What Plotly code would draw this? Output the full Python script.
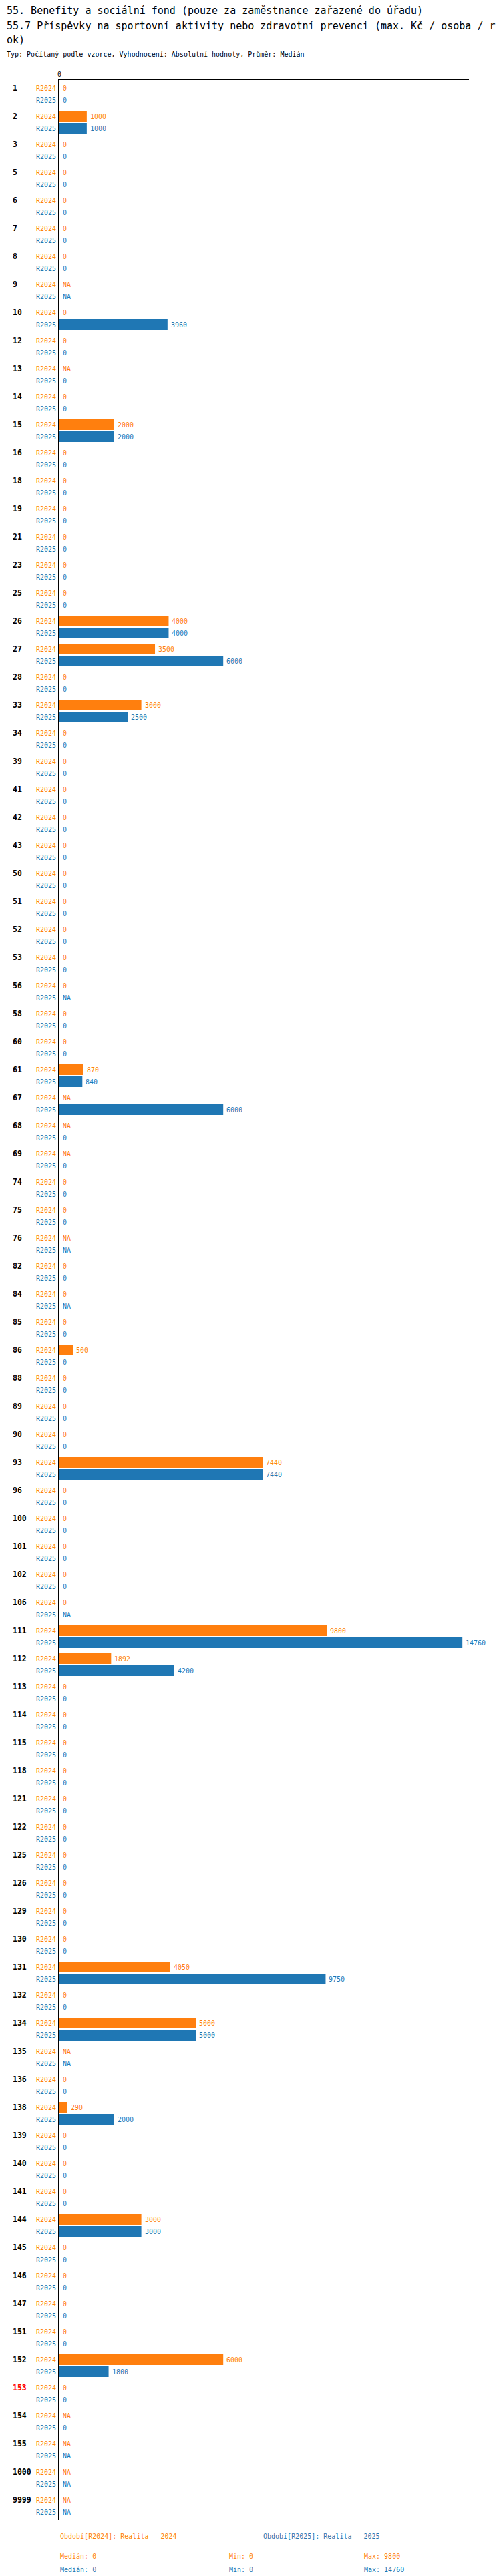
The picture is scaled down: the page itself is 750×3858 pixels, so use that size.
import numpy as np
import plotly.graph_objects as go

# Category codes (top to bottom) and values per period; None = NA
codes = ["1", "2", "3", "5", "6", "7", "8", "9", "10", "12",
         "13", "14", "15", "16", "18", "19", "21", "23", "25", "26",
         "27", "28", "33", "34", "39", "41", "42", "43", "50", "51",
         "52", "53", "56", "58", "60", "61", "67", "68", "69", "74",
         "75", "76", "82", "84", "85", "86", "88", "89", "90", "93",
         "96", "100", "101", "102", "106", "111", "112", "113", "114", "115",
         "118", "121", "122", "125", "126", "129", "130", "131", "132", "134",
         "135", "136", "138", "139", "140", "141", "144", "145", "146", "147",
         "151", "152", "153", "154", "155", "1000", "9999"]

r2024 = [0, 1000, 0, 0, 0, 0, 0, None, 0, 0,
         None, 0, 2000, 0, 0, 0, 0, 0, 0, 4000,
         3500, 0, 3000, 0, 0, 0, 0, 0, 0, 0,
         0, 0, 0, 0, 0, 870, None, None, None, 0,
         0, None, 0, 0, 0, 500, 0, 0, 0, 7440,
         0, 0, 0, 0, 0, 9800, 1892, 0, 0, 0,
         0, 0, 0, 0, 0, 0, 0, 4050, 0, 5000,
         None, 0, 290, 0, 0, 0, 3000, 0, 0, 0,
         0, 6000, 0, None, None, None, None]

r2025 = [0, 1000, 0, 0, 0, 0, 0, None, 3960, 0,
         0, 0, 2000, 0, 0, 0, 0, 0, 0, 4000,
         6000, 0, 2500, 0, 0, 0, 0, 0, 0, 0,
         0, 0, None, 0, 0, 840, 6000, 0, 0, 0,
         0, None, 0, None, 0, 0, 0, 0, 0, 7440,
         0, 0, 0, 0, None, 14760, 4200, 0, 0, 0,
         0, 0, 0, 0, 0, 0, 0, 9750, 0, 5000,
         None, 0, 2000, 0, 0, 0, 3000, 0, 0, 0,
         0, 1800, 0, 0, None, None, None]

highlight = "153"

series = [("R2024", r2024, "#ff7f0e", "Období[R2024]: Realita - 2024"),
          ("R2025", r2025, "#1f77b4", "Období[R2025]: Realita - 2025")]

W, H = 750, 3858
ML, MR, MT, MB = 81, 56, 112, 92
PW = W - ML - MR
PH = H - MT - MB
FONT = "DejaVu Sans Mono"


def px(x):
    return (x - ML) / PW


def py(y):
    return 1 - (y - MT) / PH


fig = go.Figure()
annotations = []

for i, (name, vals, color, legend_text) in enumerate(series):
    xs = [v if v is not None else 0 for v in vals]
    fig.add_trace(go.Bar(
        y=codes, x=xs, orientation="h", name=name,
        marker=dict(color=color, line=dict(width=0)),
        hoverinfo="x+y",
    ))
    shift = 9 if i == 0 else -9
    # annotations on a category axis take the category's position index
    for j, (v, x) in enumerate(zip(vals, xs)):
        annotations.append(dict(
            x=x, y=j, xref="x", yref="y", xanchor="left", yanchor="middle",
            xshift=3, yshift=shift, showarrow=False,
            text="NA" if v is None else str(v),
            font=dict(family=FONT, size=10, color=color)))
        annotations.append(dict(
            x=0, y=j, xref="paper", yref="y", xanchor="right", yanchor="middle",
            xshift=-3, yshift=shift, showarrow=False, text=name,
            font=dict(family=FONT, size=10, color=color)))

    # legend and summary stats under the chart
    known = np.array([v for v in vals if v is not None], dtype=float)
    ly = 3820 + 20 * i
    annotations.append(dict(
        x=px(80 + 304 * i), y=py(3790), xref="paper", yref="paper",
        xanchor="left", yanchor="middle", showarrow=False, text=legend_text,
        font=dict(family=FONT, size=10, color=color)))
    for xp, label, val in [(80, "Medián", np.median(known)),
                           (333, "Min", known.min()),
                           (535, "Max", known.max())]:
        annotations.append(dict(
            x=px(xp), y=py(ly), xref="paper", yref="paper",
            xanchor="left", yanchor="middle", showarrow=False,
            text=f"{label}: {val:g}",
            font=dict(family=FONT, size=10, color=color)))

for j, c in enumerate(codes):
    annotations.append(dict(
        x=px(9), y=j, xref="paper", yref="y", xanchor="left", yanchor="middle",
        yshift=9, showarrow=False, text=f"<b>{c}</b>",
        font=dict(family=FONT, size=11.5,
                  color="red" if c == highlight else "black")))

# title lines
title_lines = [
    (8, 15, "55. Benefity a sociální fond (pouze za zaměstnance zařazené do úřadu)"),
    (31, 15, "55.7 Příspěvky na sportovní aktivity nebo zdravotní prevenci (max. Kč / osoba / r"),
    (52, 15, "ok)"),
    (73, 10, "Typ: Počítaný podle vzorce, Vyhodnocení: Absolutní hodnoty, Průměr: Medián"),
]
for yy, size, txt in title_lines:
    annotations.append(dict(
        x=px(0), y=py(yy), xref="paper", yref="paper", xanchor="left",
        yanchor="middle", showarrow=False, text=txt,
        font=dict(family=FONT, size=size, color="black")))

fig.update_layout(
    width=W, height=H,
    margin=dict(l=ML, r=MR, t=MT, b=MB),
    paper_bgcolor="white", plot_bgcolor="white",
    barmode="group", bargap=0.143, bargroupgap=0.111,
    showlegend=False,
    font=dict(family=FONT, size=10, color="black"),
    annotations=annotations,
    xaxis=dict(side="top", range=[0, 15000], tickvals=[0], ticktext=["0"],
               showgrid=False, zeroline=False, showline=True,
               linecolor="black", linewidth=1, ticks="",
               tickfont=dict(family=FONT, size=10, color="black")),
    yaxis=dict(type="category", autotypenumbers="strict",
               categoryorder="array", categoryarray=codes,
               range=[len(codes) - 0.5, -0.5],
               showticklabels=False,
               showgrid=False, zeroline=False, showline=True,
               linecolor="black", linewidth=2, ticks=""),
)

fig.write_html("out.html")
